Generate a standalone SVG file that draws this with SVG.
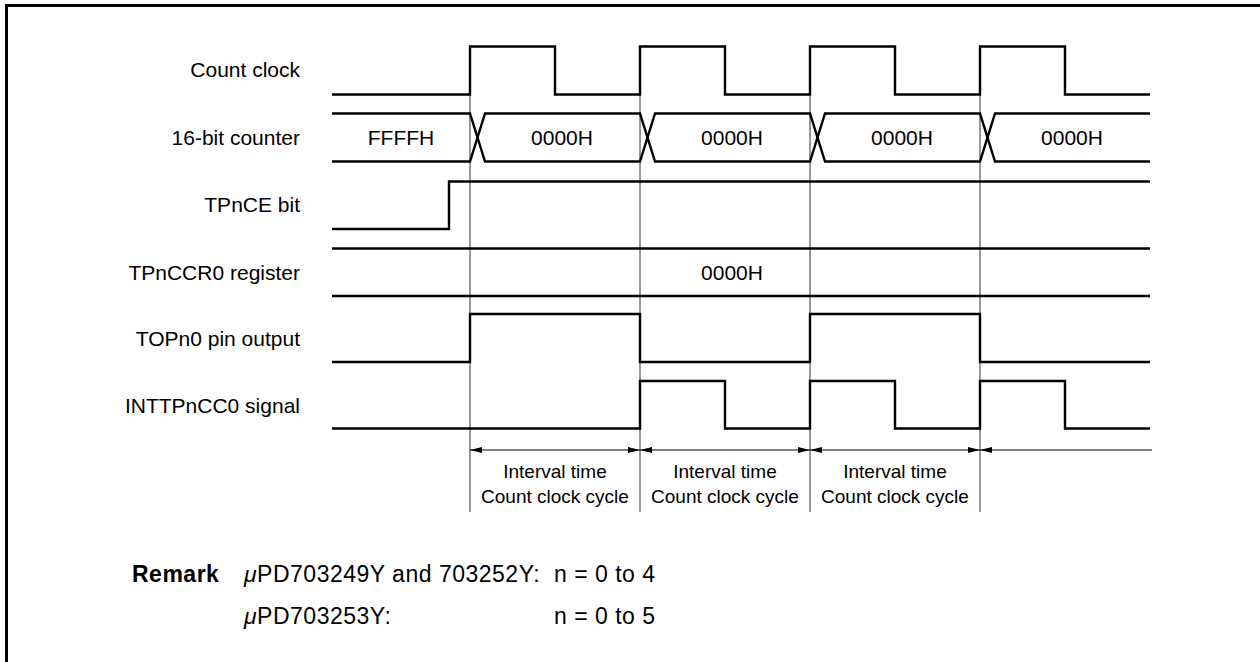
<svg xmlns="http://www.w3.org/2000/svg" width="1260" height="662" viewBox="0 0 1260 662">
<defs>
<marker id="ah" viewBox="0 0 12 6" refX="12" refY="3" markerWidth="12" markerHeight="6" markerUnits="userSpaceOnUse" orient="auto-start-reverse">
<path d="M0,0 L12,3 L0,6 Z" fill="#000"/>
</marker>
</defs>
<style>
text{font-family:"Liberation Sans",Arial,Helvetica,sans-serif;fill:#000}
.lbl{font-size:21px;text-anchor:end}
.val{font-size:21px;text-anchor:middle}
.iv{font-size:19px;text-anchor:middle}
.rm{font-size:23px;letter-spacing:0.5px}
.sig{fill:none;stroke:#000;stroke-width:2.4;stroke-linejoin:miter}
.grid{stroke:#333;stroke-width:1}
.dim{stroke:#000;stroke-width:1;fill:none}
</style>
<rect x="6.5" y="5.5" width="1270" height="680" fill="#fff" stroke="#000" stroke-width="3"/>

<g id="labels">
<text class="lbl" x="300" y="77">Count clock</text>
<text class="lbl" x="300" y="145">16-bit counter</text>
<text class="lbl" x="300" y="212">TPnCE bit</text>
<text class="lbl" x="300" y="280">TPnCCR0 register</text>
<text class="lbl" x="300" y="346">TOPn0 pin output</text>
<text class="lbl" x="300" y="413">INTTPnCC0 signal</text>
</g>

<g id="grid">
<line class="grid" x1="470" y1="94" x2="470" y2="512"/>
<line class="grid" x1="640" y1="94" x2="640" y2="512"/>
<line class="grid" x1="810" y1="94" x2="810" y2="512"/>
<line class="grid" x1="980" y1="94" x2="980" y2="512"/>
</g>

<g id="count-clock">
<path class="sig" d="M332,94.5 H470 V46.5 H555 V94.5 H640 V46.5 H725 V94.5 H810 V46.5 H895 V94.5 H980 V46.5 H1065 V94.5 H1150"/>
</g>

<g id="counter">
<path class="sig" d="M332,113.5 H470 L485,161.5 H640 L655,113.5 H810 L825,161.5 H980 L995,113.5 H1150"/>
<path class="sig" d="M332,161.5 H470 L485,113.5 H640 L655,161.5 H810 L825,113.5 H980 L995,161.5 H1150"/>
<text class="val" x="401" y="145">FFFFH</text>
<text class="val" x="562" y="145">0000H</text>
<text class="val" x="732" y="145">0000H</text>
<text class="val" x="902" y="145">0000H</text>
<text class="val" x="1072" y="145">0000H</text>
</g>

<g id="tpnce">
<path class="sig" d="M332,229 H449 V181.5 H1150"/>
</g>

<g id="tpnccr0">
<path class="sig" d="M332,248.5 H1150"/>
<path class="sig" d="M332,296 H1150"/>
<text class="val" x="732" y="280">0000H</text>
</g>

<g id="topn0">
<path class="sig" d="M332,362 H470 V314 H640 V362 H810 V314 H980 V362 H1150"/>
</g>

<g id="inttpncc0">
<path class="sig" d="M332,428.5 H640 V381 H725 V428.5 H810 V381 H895 V428.5 H980 V381 H1065 V428.5 H1150"/>
</g>

<g id="connectors">
<line class="dim" x1="470" y1="450" x2="640" y2="450" marker-start="url(#ah)" marker-end="url(#ah)"/>
<line class="dim" x1="640" y1="450" x2="810" y2="450" marker-start="url(#ah)" marker-end="url(#ah)"/>
<line class="dim" x1="810" y1="450" x2="980" y2="450" marker-start="url(#ah)" marker-end="url(#ah)"/>
<line class="dim" x1="980" y1="450" x2="1152" y2="450" marker-start="url(#ah)"/>
</g>

<g id="intervals">
<text class="iv" x="555" y="478">Interval time</text>
<text class="iv" x="555" y="503">Count clock cycle</text>
<text class="iv" x="725" y="478">Interval time</text>
<text class="iv" x="725" y="503">Count clock cycle</text>
<text class="iv" x="895" y="478">Interval time</text>
<text class="iv" x="895" y="503">Count clock cycle</text>
</g>

<g id="remark">
<text class="rm" x="132" y="582" font-weight="bold">Remark</text>
<text class="rm" x="244" y="582"><tspan font-style="italic">μ</tspan>PD703249Y and 703252Y:</text>
<text class="rm" x="554" y="582">n = 0 to 4</text>
<text class="rm" x="244" y="624"><tspan font-style="italic">μ</tspan>PD703253Y:</text>
<text class="rm" x="554" y="624">n = 0 to 5</text>
</g>
</svg>
